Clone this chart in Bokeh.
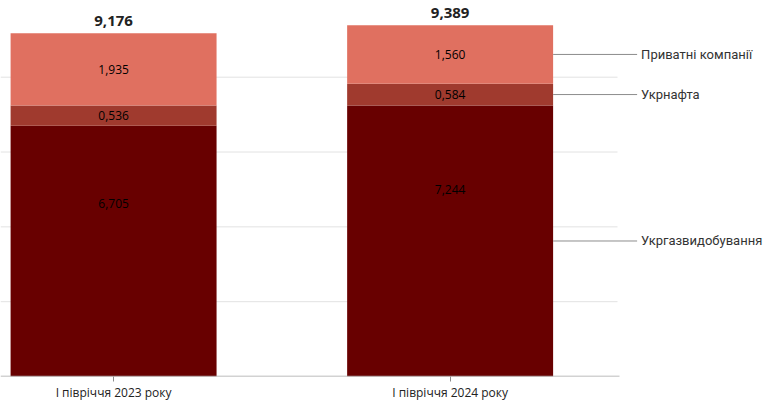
from bokeh.plotting import figure
from bokeh.models import FixedTicker, ColumnDataSource, Range1d
from bokeh.core.properties import value
from bokeh.embed import file_html
from bokeh.resources import INLINE

# ---- data ----
categories = ["І півріччя 2023 року", "І півріччя 2024 року"]
series_names = ["Укргазвидобування", "Укрнафта", "Приватні компанії"]
ukrgaz = [6.705, 7.244]
ukrnafta = [0.536, 0.584]
private = [1.935, 1.560]
totals = [9.176, 9.389]
gridlines = [2, 4, 6, 8]
colors = ["#680000", "#A03A2E", "#E07060"]

W, H = 768, 409
frame_bottom = 33
x_start, x_end = -0.336, 1.946
y_start, y_end = 0, 10.05
px_per_x = W / (x_end - x_start)
bar_w = 0.612

def fmt(v):
    return f"{v:.3f}".replace(".", ",")

xs = list(range(len(categories)))
p = figure(width=W, height=H, output_backend="svg", toolbar_location=None,
           x_range=Range1d(x_start, x_end), y_range=Range1d(y_start, y_end),
           min_border_left=0, min_border_right=0, min_border_top=0,
           min_border_bottom=frame_bottom)
p.outline_line_color = None
p.xgrid.visible = False
p.ygrid.visible = False
p.yaxis.visible = False

# grid lines (ending before right labels area)
grid_end = x_start + 617 / px_per_x
p.segment(x0=[x_start] * len(gridlines), y0=gridlines, x1=[grid_end] * len(gridlines),
          y1=gridlines, line_color="#e3e3e3", line_width=1)

src = ColumnDataSource(dict(x=xs, ukrgaz=ukrgaz, ukrnafta=ukrnafta, private=private))
p.vbar_stack(["ukrgaz", "ukrnafta", "private"], x="x", width=bar_w, source=src,
             color=colors, line_color=None)

# baseline axis line
axis_end = x_start + 619 / px_per_x
p.segment(x0=[x_start], y0=[0], x1=[axis_end], y1=[0], line_color="#a6a6a6", line_width=1.5)

# segment value labels
lab_x, lab_y, lab_t = [], [], []
for i in xs:
    lab_x += [i, i, i]
    lab_y += [ukrgaz[i] * 0.69,
              ukrgaz[i] + ukrnafta[i] / 2,
              ukrgaz[i] + ukrnafta[i] + private[i] / 2]
    lab_t += [fmt(ukrgaz[i]), fmt(ukrnafta[i]), fmt(private[i])]
p.text(x=lab_x, y=lab_y, text=lab_t, text_align="center", text_baseline="middle",
       text_font=value("Open Sans"), text_font_size="12px", text_color="#000000")

# totals
p.text(x=xs, y=totals, text=[fmt(t) for t in totals], text_align="center",
       text_baseline="bottom", y_offset=-7, text_font=value("Open Sans"),
       text_font_size="15px", text_font_style="bold", text_color="#222222")

# right-side series labels for last bar
last = xs[-1]
mids = [ukrgaz[last] / 2,
        ukrgaz[last] + ukrnafta[last] / 2,
        ukrgaz[last] + ukrnafta[last] + private[last] / 2]
x_edge = last + bar_w / 2
x_line_end = x_edge + 84 / px_per_x
p.segment(x0=[x_edge] * 3, y0=mids, x1=[x_line_end] * 3, y1=mids,
          line_color="#8c8c8c", line_width=1)
p.text(x=[x_line_end] * 3, y=mids, text=series_names, x_offset=4,
       text_align="left", text_baseline="middle", text_font=value("Roboto"),
       text_font_size="13px", text_color="#333333")

# x axis
ax = p.xaxis[0]
ax.ticker = FixedTicker(ticks=xs)
ax.major_label_overrides = {i: c for i, c in zip(xs, categories)}
ax.axis_line_color = None
ax.major_tick_line_color = "#8c8c8c"
ax.major_tick_out = 5
ax.major_tick_in = 0
ax.minor_tick_line_color = None
ax.major_label_standoff = 2
ax.major_label_text_font = "Open Sans"
ax.major_label_text_font_size = "12px"
ax.major_label_text_color = "#222222"

open("out.html", "w").write(file_html(p, INLINE))
